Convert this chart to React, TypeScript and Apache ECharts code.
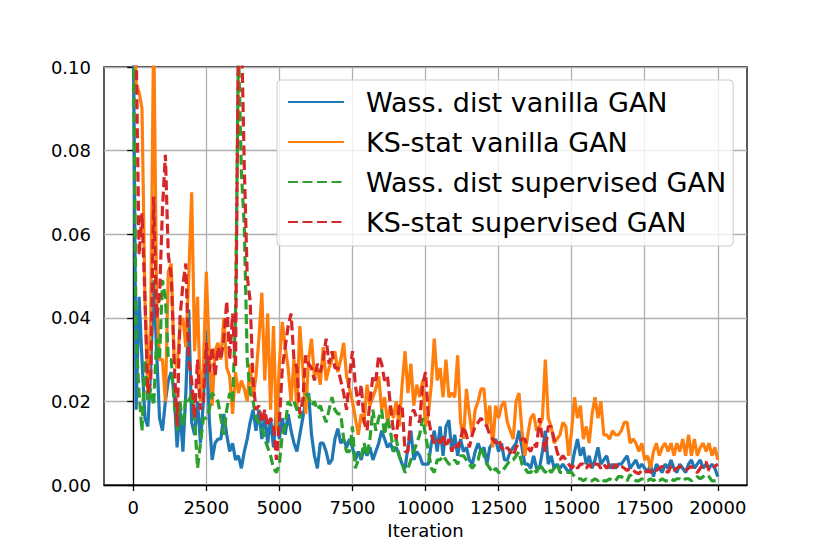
import React, { useEffect, useRef } from "react";
import * as echarts from "echarts";

// Iteration step between recorded points
const STEP = 100;

const SERIES_NAMES = [
  "Wass. dist vanilla GAN",
  "KS-stat vanilla GAN",
  "Wass. dist supervised GAN",
  "KS-stat supervised GAN",
];

const X_TICKS = [0, 2500, 5000, 7500, 10000, 12500, 15000, 17500, 20000];
const Y_TICKS = [0, 0.02, 0.04, 0.06, 0.08, 0.1];

const WASS_VANILLA = [
  0.115, 0.018, 0.045, 0.030, 0.016, 0.014, 0.028, 0.049, 0.032, 0.016,
  0.013, 0.020, 0.025, 0.027, 0.022, 0.009, 0.018, 0.008, 0.022, 0.042,
  0.015, 0.012, 0.020, 0.010, 0.020, 0.037, 0.016, 0.006, 0.010, 0.011,
  0.011, 0.017, 0.012, 0.008, 0.010, 0.006, 0.007, 0.004, 0.008, 0.011,
  0.015, 0.018, 0.013, 0.018, 0.011, 0.017, 0.010, 0.016, 0.009, 0.018,
  0.011, 0.016, 0.012, 0.017, 0.013, 0.010, 0.008, 0.012, 0.016, 0.020,
  0.022, 0.012, 0.007, 0.004, 0.010, 0.010, 0.008, 0.005, 0.006, 0.011,
  0.0135, 0.010, 0.011, 0.009, 0.011, 0.009, 0.006, 0.008, 0.006, 0.009,
  0.007, 0.009, 0.006, 0.008, 0.010, 0.013, 0.011, 0.009, 0.010, 0.008,
  0.009, 0.007, 0.005, 0.004, 0.009, 0.013, 0.006, 0.008, 0.007, 0.005,
  0.005, 0.005, 0.010, 0.013, 0.008, 0.014, 0.007, 0.014, 0.0155, 0.008,
  0.012, 0.007, 0.011, 0.008, 0.009, 0.006, 0.005, 0.008, 0.010, 0.008,
  0.009, 0.005, 0.009, 0.010, 0.011, 0.008, 0.010, 0.006, 0.006, 0.008,
  0.009, 0.010, 0.013, 0.009, 0.005, 0.005, 0.004, 0.007, 0.004, 0.004,
  0.008, 0.013, 0.005, 0.007, 0.004, 0.005, 0.004, 0.005, 0.004, 0.003,
  0.004, 0.008, 0.011, 0.007, 0.009, 0.005, 0.007, 0.004, 0.006, 0.009,
  0.005, 0.006, 0.007, 0.004, 0.005, 0.004, 0.005, 0.005, 0.006, 0.007,
  0.004, 0.005, 0.006, 0.004, 0.005, 0.004, 0.003, 0.005, 0.002, 0.005,
  0.004, 0.003, 0.005, 0.004, 0.006, 0.004, 0.003, 0.005, 0.004, 0.003,
  0.005, 0.006, 0.004, 0.005, 0.006, 0.004, 0.005, 0.004, 0.005, 0.004,
  0.002,
];

const KS_VANILLA = [
  0.120, 0.096, 0.094, 0.090, 0.045, 0.022, 0.040, 0.110, 0.045, 0.030,
  0.030, 0.020, 0.051, 0.053, 0.030, 0.028, 0.038, 0.040, 0.033, 0.050,
  0.070, 0.032, 0.045, 0.020, 0.028, 0.051, 0.032, 0.019, 0.032, 0.034,
  0.030, 0.040, 0.028, 0.026, 0.017, 0.027, 0.022, 0.025, 0.023, 0.020,
  0.029, 0.021, 0.026, 0.035, 0.046, 0.025, 0.041, 0.018, 0.038, 0.013,
  0.029, 0.039, 0.033, 0.028, 0.020, 0.030, 0.018, 0.038, 0.028, 0.017,
  0.030, 0.035, 0.026, 0.028, 0.024, 0.033, 0.025, 0.028, 0.030, 0.032,
  0.027, 0.030, 0.034, 0.026, 0.023, 0.020, 0.016, 0.012, 0.017, 0.015,
  0.024, 0.019, 0.021, 0.023, 0.026, 0.018, 0.021, 0.015, 0.019, 0.016,
  0.020, 0.014, 0.024, 0.032, 0.022, 0.029, 0.019, 0.024, 0.021, 0.025,
  0.014, 0.017, 0.024, 0.035, 0.025, 0.028, 0.021, 0.030, 0.021, 0.022,
  0.021, 0.031, 0.015, 0.011, 0.023, 0.017, 0.012, 0.018, 0.020, 0.023,
  0.023, 0.014, 0.019, 0.009, 0.019, 0.016, 0.019, 0.020, 0.015, 0.013,
  0.011, 0.020, 0.022, 0.013, 0.007, 0.012, 0.016, 0.017, 0.013, 0.014,
  0.016, 0.030, 0.016, 0.014, 0.010, 0.011, 0.012, 0.015, 0.014, 0.007,
  0.013, 0.021, 0.016, 0.019, 0.011, 0.014, 0.010, 0.017, 0.021, 0.016,
  0.020, 0.012, 0.012, 0.011, 0.013, 0.012, 0.012, 0.013, 0.015, 0.015,
  0.010, 0.011, 0.010, 0.008, 0.010, 0.006, 0.007, 0.004, 0.008, 0.010,
  0.007, 0.009, 0.010, 0.008, 0.010, 0.007, 0.010, 0.008, 0.011, 0.007,
  0.012, 0.007, 0.011, 0.007, 0.009, 0.010, 0.008, 0.010, 0.007, 0.009,
  0.006,
];

const WASS_SUPERVISED = [
  0.110, 0.035, 0.022, 0.013, 0.030, 0.020, 0.023, 0.019, 0.035, 0.030,
  0.049, 0.045, 0.030, 0.030, 0.020, 0.013, 0.020, 0.014, 0.021, 0.020,
  0.022, 0.016, 0.004, 0.010, 0.016, 0.016, 0.018, 0.022, 0.021, 0.020,
  0.016, 0.012, 0.018, 0.022, 0.020, 0.040, 0.105, 0.075, 0.062, 0.030,
  0.022, 0.020, 0.016, 0.015, 0.014, 0.011, 0.009, 0.007, 0.004, 0.003,
  0.005, 0.012, 0.014, 0.020, 0.019, 0.020, 0.018, 0.016, 0.020, 0.022,
  0.021, 0.019, 0.020, 0.018, 0.019, 0.017, 0.015, 0.018, 0.021, 0.018,
  0.017, 0.017, 0.011, 0.008, 0.008, 0.014, 0.004, 0.006, 0.007, 0.010,
  0.007, 0.011, 0.018, 0.013, 0.016, 0.018, 0.012, 0.016, 0.013, 0.008,
  0.011, 0.007, 0.005, 0.003, 0.004, 0.006, 0.008, 0.010, 0.012, 0.016,
  0.012, 0.008, 0.004, 0.003, 0.006, 0.006, 0.007, 0.006, 0.005, 0.005,
  0.006, 0.005, 0.007, 0.007, 0.006, 0.005, 0.004, 0.005, 0.006, 0.009,
  0.007, 0.005, 0.004, 0.003, 0.004, 0.003, 0.003, 0.004, 0.005, 0.006,
  0.006, 0.007, 0.008, 0.005, 0.004, 0.003, 0.003, 0.004, 0.003, 0.005,
  0.004, 0.003, 0.004, 0.003, 0.004, 0.005, 0.003, 0.003, 0.003, 0.003,
  0.003, 0.002, 0.0015, 0.0015, 0.001, 0.0015, 0.001, 0.001, 0.0015, 0.001,
  0.0015, 0.001, 0.001, 0.0015, 0.001, 0.001, 0.002, 0.002, 0.0015, 0.001,
  0.0025, 0.0015, 0.001, 0.001, 0.0015, 0.001, 0.001, 0.0015, 0.001, 0.0015,
  0.001, 0.0015, 0.001, 0.001, 0.0015, 0.001, 0.0015, 0.0015, 0.001, 0.0015,
  0.0015, 0.001, 0.0015, 0.002, 0.0015, 0.002, 0.0025, 0.002, 0.001, 0.001,
  0.001,
];

const KS_SUPERVISED = [
  0.120, 0.105, 0.055, 0.065, 0.045, 0.022, 0.025, 0.069, 0.040, 0.045,
  0.066, 0.079, 0.055, 0.050, 0.030, 0.014, 0.040, 0.048, 0.053, 0.030,
  0.025, 0.016, 0.030, 0.018, 0.020, 0.034, 0.027, 0.033, 0.026, 0.033,
  0.030, 0.035, 0.044, 0.030, 0.041, 0.028, 0.110, 0.110, 0.076, 0.050,
  0.044, 0.025, 0.018, 0.019, 0.015, 0.018, 0.014, 0.016, 0.014, 0.006,
  0.015, 0.028, 0.033, 0.038, 0.041, 0.030, 0.028, 0.017, 0.020, 0.031,
  0.029, 0.028, 0.025, 0.029, 0.027, 0.030, 0.035, 0.029, 0.032, 0.028,
  0.028, 0.025, 0.022, 0.018, 0.026, 0.032, 0.024, 0.019, 0.024, 0.015,
  0.013, 0.020, 0.026, 0.025, 0.031, 0.029, 0.025, 0.026, 0.019, 0.013,
  0.011, 0.019, 0.019, 0.008, 0.008, 0.017, 0.018, 0.016, 0.015, 0.024,
  0.027, 0.016, 0.012, 0.010, 0.011, 0.010, 0.012, 0.009, 0.011, 0.008,
  0.010, 0.009, 0.011, 0.014, 0.012, 0.009, 0.012, 0.014, 0.015, 0.016,
  0.015, 0.014, 0.012, 0.011, 0.010, 0.011, 0.009, 0.008, 0.009, 0.008,
  0.007, 0.009, 0.010, 0.011, 0.011, 0.009, 0.008, 0.010, 0.009, 0.016,
  0.011, 0.008, 0.014, 0.014, 0.011, 0.008, 0.006, 0.007, 0.006, 0.005,
  0.004, 0.005, 0.004, 0.005, 0.005, 0.004, 0.005, 0.004, 0.005, 0.005,
  0.004, 0.005, 0.004, 0.005, 0.004, 0.005, 0.004, 0.0045, 0.004, 0.0035,
  0.004, 0.0035, 0.003, 0.0027, 0.0035, 0.003, 0.0035, 0.003, 0.004, 0.0035,
  0.004, 0.0045, 0.0035, 0.003, 0.0045, 0.0035, 0.004, 0.0045, 0.004, 0.0035,
  0.004, 0.0045, 0.0035, 0.003, 0.004, 0.005, 0.0055, 0.0035, 0.004, 0.0045,
  0.005,
];

const ITERATIONS = WASS_VANILLA.map((_, i) => i * STEP);

const COLORS = ["#1f77b4", "#ff7f0e", "#2ca02c", "#d62728"];
const FONT = "DejaVu Sans";

export default function App() {
  const ref = useRef<HTMLDivElement>(null);

  useEffect(() => {
    if (!ref.current) return;
    const chart = echarts.init(ref.current, undefined, { renderer: "svg" });
    const allData = [WASS_VANILLA, KS_VANILLA, WASS_SUPERVISED, KS_SUPERVISED];
    const dashed = [false, false, true, true];
    const series = allData.map((arr, k) => ({
      name: SERIES_NAMES[k],
      type: "line",
      data: ITERATIONS.map((x, i) => [x, arr[i]]),
      symbol: "none",
      showSymbol: false,
      clip: true,
      color: COLORS[k],
      lineStyle: {
        color: COLORS[k],
        width: 3.2,
        type: dashed[k] ? [10, 4.5] : "solid",
      },
      emphasis: { disabled: true },
    }));

    const axisLine = { show: true, lineStyle: { color: "#000", width: 1.3 } };
    const splitLine = { show: true, lineStyle: { color: "#b0b0b0", width: 1.3 } };
    const labelStyle = { fontSize: 18, fontFamily: FONT, color: "#000" };

    chart.setOption({
      animation: false,
      grid: {
        left: 104,
        right: 83,
        top: 67,
        bottom: 69,
        show: true,
        borderColor: "#000",
        borderWidth: 1.3,
        backgroundColor: "transparent",
      },
      xAxis: {
        type: "value",
        min: -1000,
        max: 21000,
        name: "Iteration",
        nameLocation: "middle",
        nameGap: 36,
        nameTextStyle: labelStyle,
        axisLine,
        axisTick: {
          show: true,
          length: 6,
          lineStyle: { color: "#000", width: 1.3 },
          customValues: X_TICKS,
        },
        axisLabel: {
          ...labelStyle,
          margin: 13,
          customValues: X_TICKS,
          formatter: (v: number) => String(v),
        },
        splitLine,
      },
      yAxis: {
        type: "value",
        min: 0,
        max: 0.1,
        interval: 0.02,
        axisLine,
        axisTick: {
          show: true,
          length: 6,
          lineStyle: { color: "#000", width: 1.3 },
          customValues: Y_TICKS,
        },
        axisLabel: {
          ...labelStyle,
          margin: 13,
          customValues: Y_TICKS,
          formatter: (v: number) => v.toFixed(2),
        },
        splitLine,
      },
      legend: {
        orient: "vertical",
        left: 277,
        top: 80,
        padding: [7, 7, 9, 10],
        itemGap: 10,
        itemWidth: 56,
        itemHeight: 14,
        selectedMode: false,
        backgroundColor: "rgba(255,255,255,0.8)",
        borderColor: "#cccccc",
        borderWidth: 1,
        borderRadius: 4,
        data: SERIES_NAMES,
        itemStyle: {
          color: "transparent",
          borderColor: "transparent",
          borderWidth: 0,
        },
        textStyle: {
          fontSize: 27,
          fontFamily: FONT,
          color: "#000",
          lineHeight: 30,
          padding: [0, 0, 0, 17],
        },
      },
      series,
    });

    return () => {
      chart.dispose();
    };
  }, []);

  return (
    <div
      ref={ref}
      style={{ position: "fixed", left: 0, top: 0, width: 830, height: 554, background: "#fff" }}
    />
  );
}
